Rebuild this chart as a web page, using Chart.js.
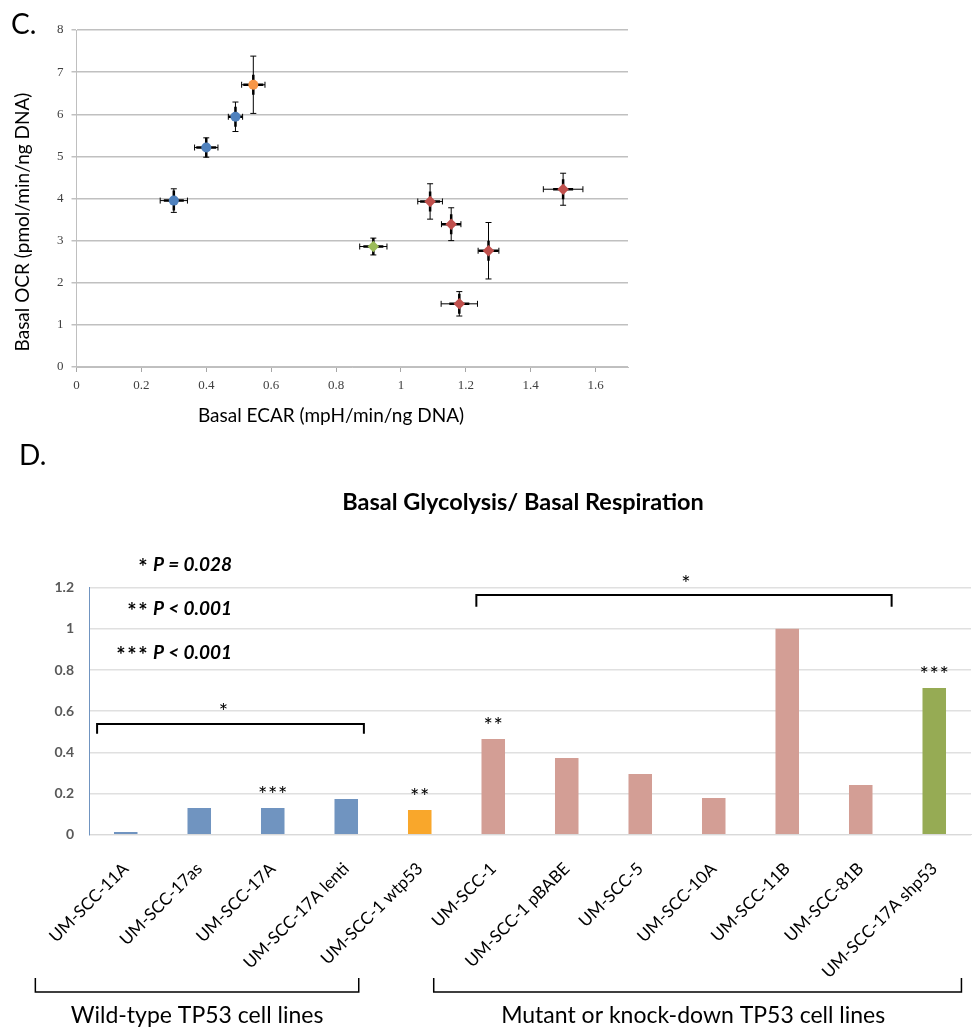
<!DOCTYPE html>
<html>
<head>
<meta charset="utf-8">
<script src="https://cdn.jsdelivr.net/npm/chart.js@4.4.0/dist/chart.umd.min.js"></script>
<style>
  body { margin: 0; background: #fff; }
  #wrapC { position: absolute; left: 0; top: 0; width: 974px; height: 440px; }
  #wrapD { position: absolute; left: 0; top: 440px; width: 974px; height: 588px; }
</style>
</head>
<body>
<div id="wrapC"><canvas id="scatterChart"></canvas></div>
<div id="wrapD"><canvas id="ratioChart"></canvas></div>
<script>
// Panel C: basal OCR vs basal ECAR, one point per cell line
const ecar    = [0.30, 0.40, 0.49, 0.545, 0.915, 1.09, 1.155, 1.27, 1.18, 1.50];
const ocr     = [3.95, 5.21, 5.94, 6.70, 2.86, 3.93, 3.39, 2.76, 1.50, 4.22];
const ecarErr = [0.042, 0.036, 0.022, 0.036, 0.042, 0.038, 0.030, 0.032, 0.056, 0.061];
const ocrErr  = [0.28, 0.23, 0.35, 0.68, 0.20, 0.42, 0.39, 0.67, 0.29, 0.38];
const pointGroup = ['wt', 'wt', 'wt', 'wtp53', 'shp53', 'mut', 'mut', 'mut', 'mut', 'mut'];
const ecarTicks = [0, 0.2, 0.4, 0.6, 0.8, 1, 1.2, 1.4, 1.6];

// Panel D: glycolysis / respiration ratio
const cellLines = ['UM-SCC-11A', 'UM-SCC-17as', 'UM-SCC-17A', 'UM-SCC-17A lenti', 'UM-SCC-1 wtp53',
  'UM-SCC-1', 'UM-SCC-1 pBABE', 'UM-SCC-5', 'UM-SCC-10A', 'UM-SCC-11B', 'UM-SCC-81B', 'UM-SCC-17A shp53'];
const ratio = [0.013, 0.13, 0.13, 0.173, 0.12, 0.465, 0.373, 0.295, 0.178, 1.0, 0.241, 0.713];
const barGroup = ['wt', 'wt', 'wt', 'wt', 'wtp53', 'mut', 'mut', 'mut', 'mut', 'mut', 'mut', 'shp53'];
const barStars = [0, 0, 3, 0, 2, 2, 0, 0, 0, 0, 0, 3];
const pLegend = [[1, 'P = 0.028'], [2, 'P < 0.001'], [3, 'P < 0.001']];

Chart.defaults.font.family = 'Lato';

const pointColors = { wt: '#4f81bd', wtp53: '#f79646', shp53: '#9bbb59', mut: '#c0504d' };
const barColors = { wt: '#7094c0', wtp53: '#f9a72b', shp53: '#96ab54', mut: '#d39e95' };
const fmt = v => String(Math.round(v * 10) / 10);

// a row of asterisks centred on cx
function drawStars(ctx, n, cx, cy, gap) {
  for (let k = 0; k < n; k++) {
    ctx.fillText('*', cx + (k - (n - 1) / 2) * gap, cy);
  }
}

// error bars for the scatter points (drawn under the markers)
const errorBars = {
  id: 'errorBars',
  beforeDatasetsDraw(chart) {
    const { ctx, scales: { x, y } } = chart;
    ctx.save();
    ctx.strokeStyle = '#000';
    ecar.forEach((v, i) => {
      const px = x.getPixelForValue(v), py = y.getPixelForValue(ocr[i]);
      const x1 = x.getPixelForValue(v - ecarErr[i]), x2 = x.getPixelForValue(v + ecarErr[i]);
      const y1 = y.getPixelForValue(ocr[i] + ocrErr[i]), y2 = y.getPixelForValue(ocr[i] - ocrErr[i]);
      ctx.lineWidth = 1;
      ctx.beginPath();
      ctx.moveTo(x1, py); ctx.lineTo(x2, py);
      ctx.moveTo(x1, py - 3); ctx.lineTo(x1, py + 3);
      ctx.moveTo(x2, py - 3); ctx.lineTo(x2, py + 3);
      ctx.moveTo(px, y1); ctx.lineTo(px, y2);
      ctx.moveTo(px - 3, y1); ctx.lineTo(px + 3, y1);
      ctx.moveTo(px - 3, y2); ctx.lineTo(px + 3, y2);
      ctx.stroke();
      // heavier stubs next to the marker
      ctx.lineWidth = 2.5;
      const sx = Math.min(10, px - x1), sy = Math.min(10, y2 - py);
      ctx.beginPath();
      ctx.moveTo(px - sx, py); ctx.lineTo(px + sx, py);
      ctx.moveTo(px, py - sy); ctx.lineTo(px, py + sy);
      ctx.stroke();
    });
    ctx.restore();
  }
};

const labelsC = {
  id: 'labelsC',
  afterDraw(chart) {
    const ctx = chart.ctx;
    ctx.save();
    ctx.fillStyle = '#000';
    ctx.font = '28px Lato';
    ctx.textAlign = 'left';
    ctx.textBaseline = 'alphabetic';
    ctx.fillText('C.', 11, 34);
    ctx.font = '19px Lato';
    ctx.textAlign = 'center';
    ctx.textBaseline = 'middle';
    ctx.fillText('Basal ECAR (mpH/min/ng DNA)', 331, 416);
    ctx.translate(23, 222);
    ctx.rotate(-Math.PI / 2);
    ctx.fillText('Basal OCR (pmol/min/ng DNA)', 0, 0);
    ctx.restore();
  }
};

const scatterChart = new Chart(document.getElementById('scatterChart'), {
  type: 'scatter',
  data: {
    datasets: [{
      data: ecar.map((v, i) => ({ x: v, y: ocr[i] })),
      pointStyle: pointGroup.map(g => (g === 'wt' || g === 'wtp53') ? 'circle' : 'rectRot'),
      pointRadius: pointGroup.map(g => (g === 'wt' || g === 'wtp53') ? 5 : 5.8),
      backgroundColor: pointGroup.map(g => pointColors[g]),
      borderColor: pointGroup.map(g => pointColors[g]),
      borderWidth: 0
    }]
  },
  options: {
    responsive: true,
    maintainAspectRatio: false,
    animation: false,
    layout: { padding: { top: 30, right: 346, bottom: 0, left: 0 } },
    plugins: { legend: { display: false }, tooltip: { enabled: false } },
    scales: {
      x: {
        type: 'linear', min: 0, max: 1.7,
        afterBuildTicks: s => { s.ticks = ecarTicks.map(v => ({ value: v })); },
        afterFit: s => { s.height = 73; },
        ticks: { padding: 6, color: '#404040', font: { family: 'Liberation Serif', size: 13 }, callback: fmt },
        grid: { drawOnChartArea: false, color: '#a6a6a6', tickLength: 5 },
        border: { color: '#bfbfbf' }
      },
      y: {
        min: 0, max: 8,
        afterFit: s => { s.width = 76.5; },
        ticks: { stepSize: 1, padding: 8, color: '#404040', font: { family: 'Liberation Serif', size: 13 } },
        grid: { color: '#c0c0c0', lineWidth: 1.5, tickLength: 5 },
        border: { color: '#bfbfbf' }
      }
    }
  },
  plugins: [errorBars, labelsC]
});

// annotations for panel D
const sigBrackets = [
  { from: -0.39, to: 3.24, top: 0.538, leg: 0.49, starAt: 1.33, starY: 0.62 },
  { from: 4.77, to: 10.42, top: 1.165, leg: 1.107, starAt: 7.62, starY: 1.245 }
];
const groupBrackets = [
  { from: -1.23, to: 3.17, textAt: 0.97, text: 'Wild-type TP53 cell lines' },
  { from: 4.19, to: 11.37, textAt: 7.72, text: 'Mutant or knock-down TP53 cell lines' }
];

const labelsD = {
  id: 'labelsD',
  afterDraw(chart) {
    const { ctx, scales: { x, y } } = chart;
    ctx.save();
    ctx.fillStyle = '#000';
    ctx.strokeStyle = '#000';
    ctx.font = '28px Lato';
    ctx.textAlign = 'left';
    ctx.textBaseline = 'alphabetic';
    ctx.fillText('D.', 19, 25);

    ctx.font = 'bold 23.5px Lato';
    ctx.textAlign = 'center';
    ctx.textBaseline = 'middle';
    ctx.fillText('Basal Glycolysis/ Basal Respiration', 523, 62);

    // P value key
    pLegend.forEach(([n, txt], i) => {
      const cy = 125 + i * 44;
      ctx.font = 'italic bold 19px Lato';
      ctx.textAlign = 'right';
      ctx.fillText(txt, 232, cy);
      const w = ctx.measureText(txt).width;
      ctx.font = 'bold 22px Lato';
      ctx.textAlign = 'center';
      drawStars(ctx, n, 232 - w - 10 - (n - 1) * 5.5, cy + 3, 11);
    });

    // stars over single bars
    ctx.font = '22px Lato';
    ctx.textAlign = 'center';
    barStars.forEach((n, i) => {
      if (!n) return;
      drawStars(ctx, n, x.getPixelForValue(i), y.getPixelForValue(ratio[i]) - 13, 10);
    });

    // significance brackets
    ctx.lineWidth = 2;
    sigBrackets.forEach(b => {
      const x1 = x.getPixelForValue(b.from), x2 = x.getPixelForValue(b.to);
      const yt = y.getPixelForValue(b.top), yl = y.getPixelForValue(b.leg);
      ctx.beginPath();
      ctx.moveTo(x1, yl); ctx.lineTo(x1, yt); ctx.lineTo(x2, yt); ctx.lineTo(x2, yl);
      ctx.stroke();
      drawStars(ctx, 1, x.getPixelForValue(b.starAt), y.getPixelForValue(b.starY) + 5, 10);
    });

    // cell line group brackets under the axis
    ctx.lineWidth = 1.5;
    ctx.font = '23px Lato';
    groupBrackets.forEach(b => {
      const x1 = x.getPixelForValue(b.from), x2 = x.getPixelForValue(b.to);
      ctx.beginPath();
      ctx.moveTo(x1, 538); ctx.lineTo(x1, 552); ctx.lineTo(x2, 552); ctx.lineTo(x2, 538);
      ctx.stroke();
      ctx.fillText(b.text, x.getPixelForValue(b.textAt), 576);
    });
    ctx.restore();
  }
};

const ratioChart = new Chart(document.getElementById('ratioChart'), {
  type: 'bar',
  data: {
    labels: cellLines,
    datasets: [{
      data: ratio,
      backgroundColor: barGroup.map(g => barColors[g]),
      categoryPercentage: 1,
      barPercentage: 0.32
    }]
  },
  options: {
    responsive: true,
    maintainAspectRatio: false,
    animation: false,
    layout: { padding: { top: 147.7, right: 3, bottom: 0, left: 0 } },
    plugins: { legend: { display: false }, tooltip: { enabled: false } },
    scales: {
      x: {
        afterFit: s => { s.height = 193.3; },
        ticks: { autoSkip: false, minRotation: 45, maxRotation: 45, padding: 16, color: '#000', font: { size: 17 } },
        grid: { display: false },
        border: { color: '#d9d9d9' }
      },
      y: {
        min: 0, max: 1.2,
        afterFit: s => { s.width = 89; },
        ticks: { stepSize: 0.2, padding: 15, color: '#595959', font: { size: 14, weight: 'bold' }, callback: fmt },
        grid: { color: '#e0e0e0', lineWidth: 1.5, drawTicks: false },
        border: { color: '#7094c0' }
      }
    }
  },
  plugins: [labelsD]
});
</script>
</body>
</html>
